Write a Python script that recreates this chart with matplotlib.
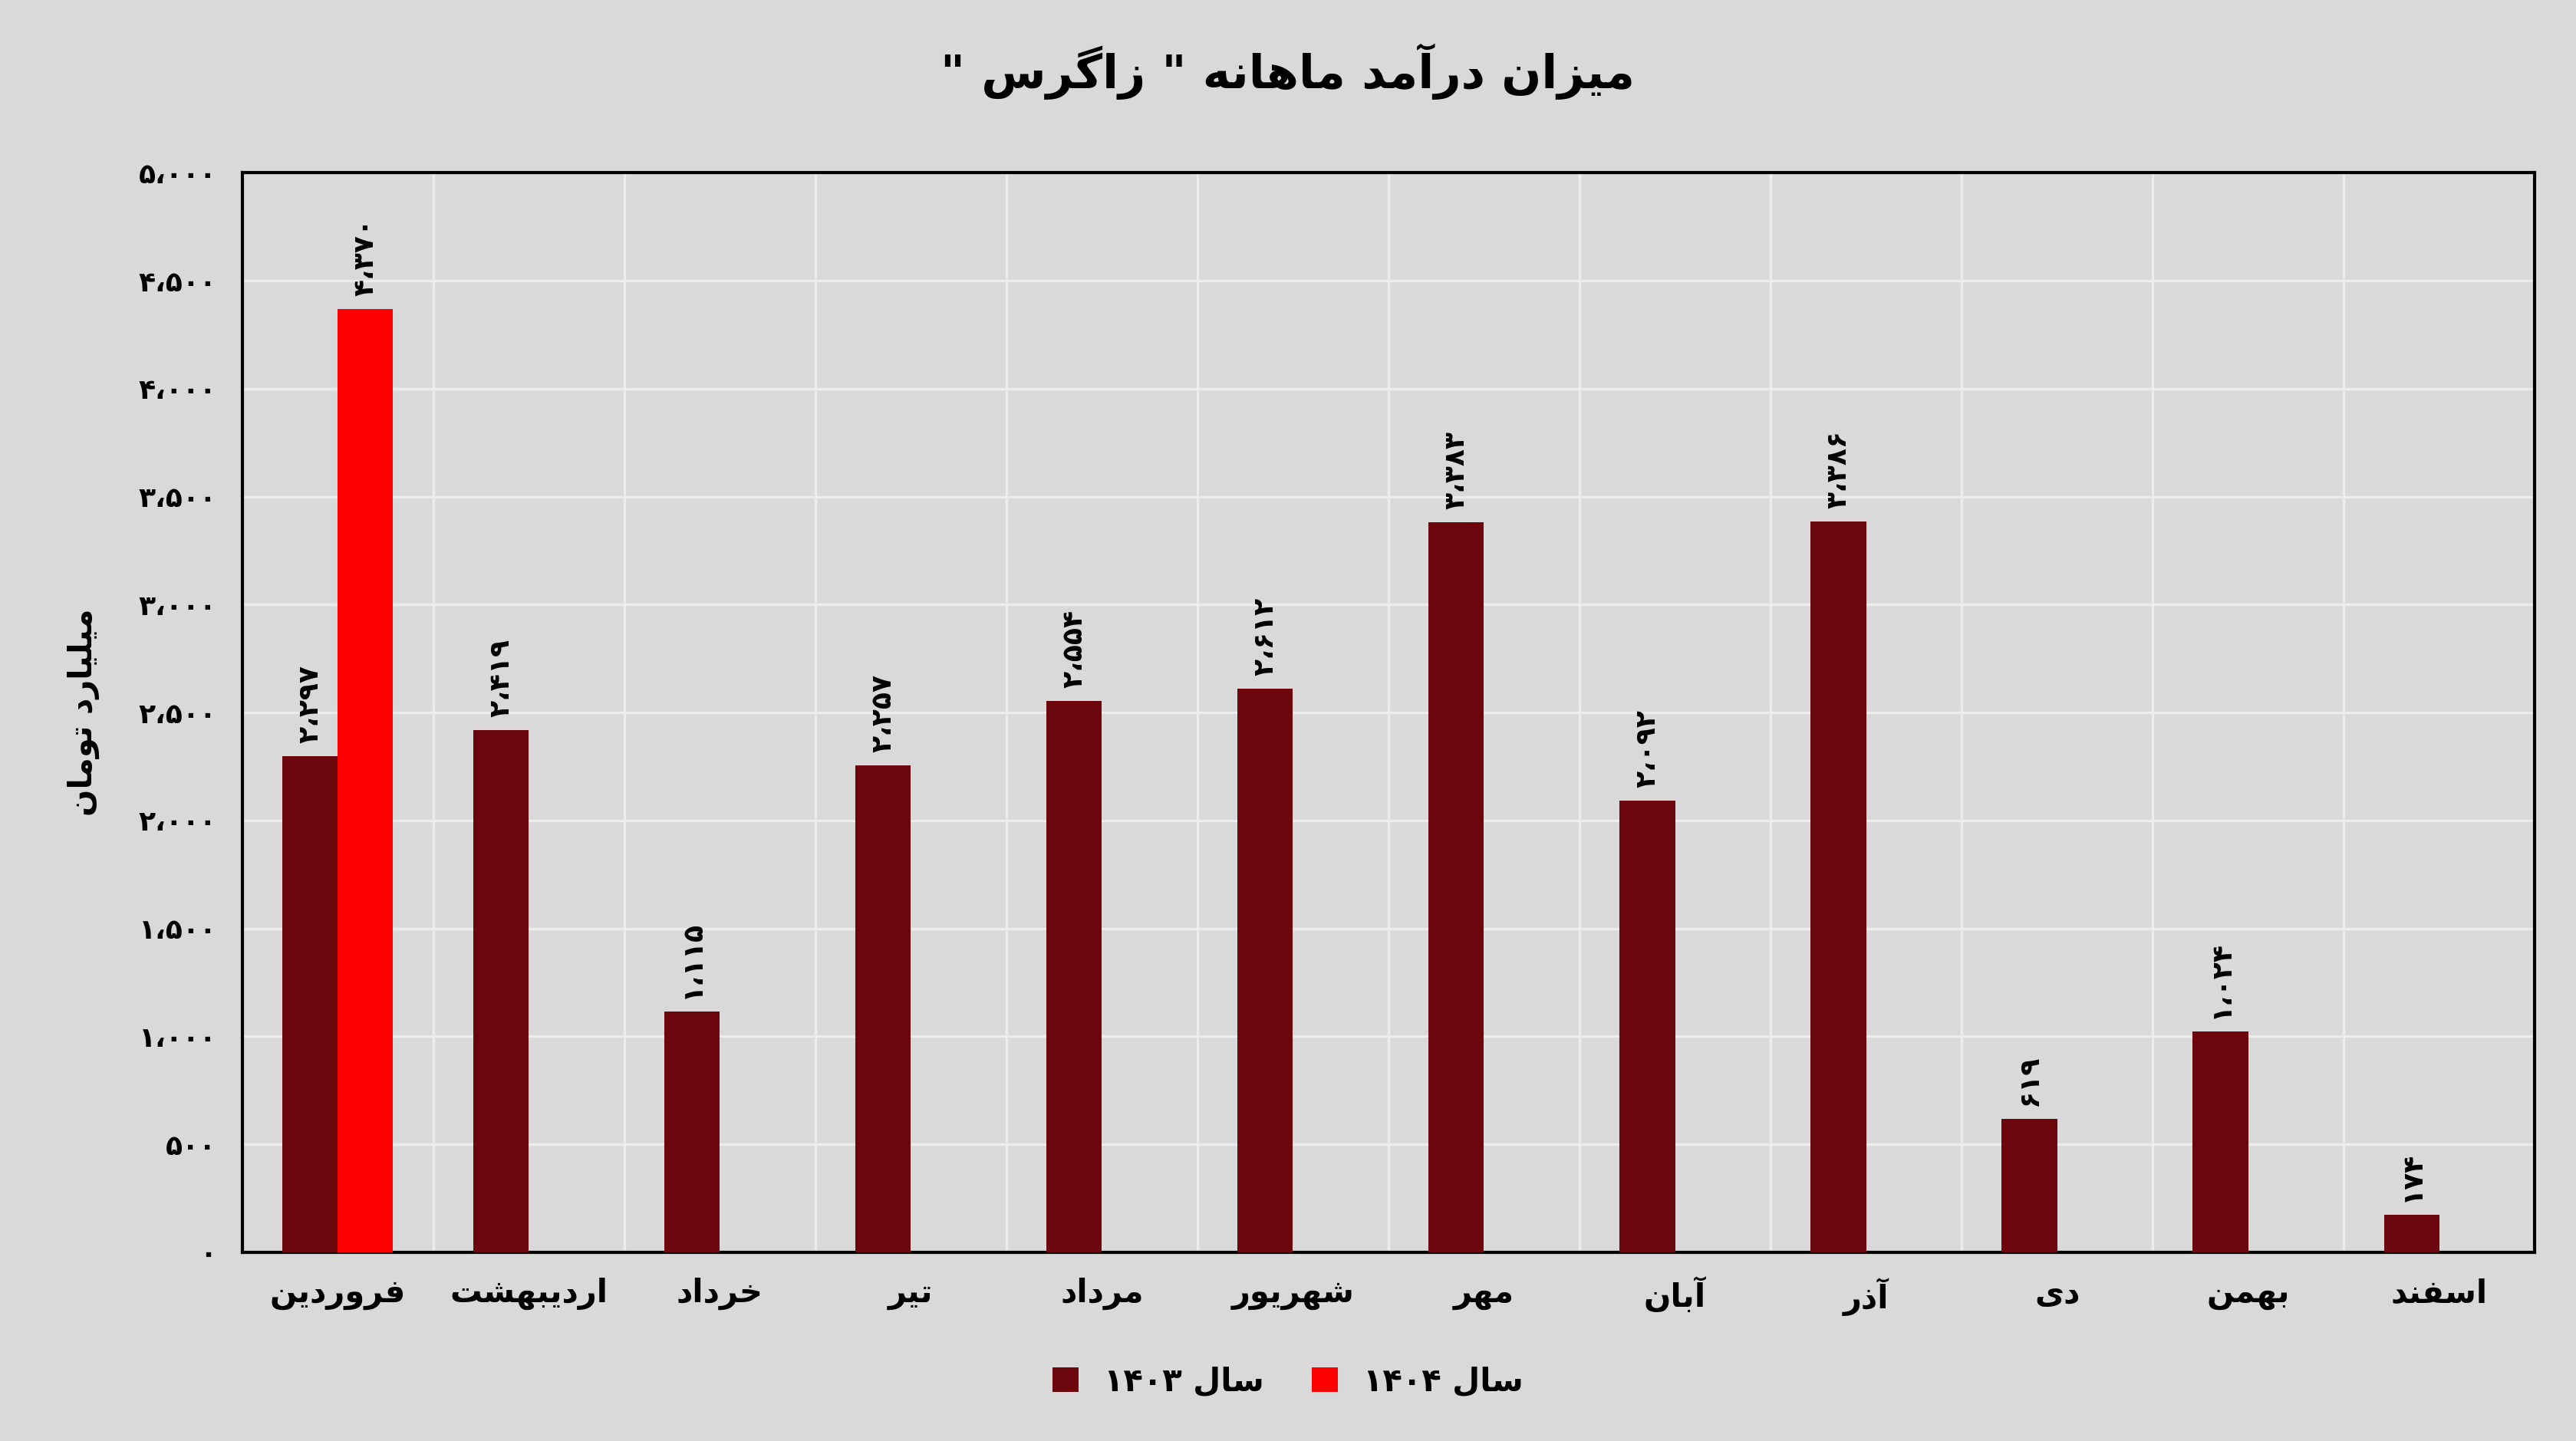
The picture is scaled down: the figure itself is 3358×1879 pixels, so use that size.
import unicodedata
import matplotlib
matplotlib.use("Agg")
import matplotlib.pyplot as plt
import numpy as np

months = ["فروردین", "اردیبهشت", "خرداد", "تیر", "مرداد", "شهریور",
          "مهر", "آبان", "آذر", "دی", "بهمن", "اسفند"]
income_1403 = [2297, 2419, 1115, 2257, 2554, 2612, 3383, 2092, 3386, 619, 1024, 174]
income_1404 = [4370]
yticks = [0, 500, 1000, 1500, 2000, 2500, 3000, 3500, 4000, 4500, 5000]

NON_LEFT = set("اآأإدذرزژوؤة")


def is_ar(c):
    return "\u0600" <= c <= "\u06FF" and c not in "۰۱۲۳۴۵۶۷۸۹،"


def form(c, f):
    try:
        return unicodedata.lookup(unicodedata.name(c) + " " + f + " FORM")
    except KeyError:
        return c


def fa(s):
    out = []
    for i, c in enumerate(s):
        if not is_ar(c):
            out.append(c)
            continue
        prev = s[i - 1] if i > 0 else ""
        nxt = s[i + 1] if i + 1 < len(s) else ""
        jp = prev != "" and is_ar(prev) and prev not in NON_LEFT
        jn = nxt != "" and is_ar(nxt) and c not in NON_LEFT
        f = "MEDIAL" if jp and jn else "FINAL" if jp else "INITIAL" if jn else "ISOLATED"
        g = form(c, f)
        if g == c and f == "MEDIAL":
            g = form(c, "FINAL")
        if g == c and f == "INITIAL":
            g = form(c, "ISOLATED")
        out.append(g)
    r = "".join(out)[::-1]
    # keep digit runs left-to-right
    res, run = "", ""
    for c in r:
        if c in "۰۱۲۳۴۵۶۷۸۹،0123456789":
            run += c
        else:
            res += run[::-1] + c
            run = ""
    return res + run[::-1]


def pnum(v):
    s = f"{v:,}".replace(",", "،")
    return s.translate(str.maketrans("0123456789", "۰۱۲۳۴۵۶۷۸۹"))


plt.rcParams["font.family"] = ["DejaVu Sans"]
bg = "#d9d9d9"
dark = "#6b060c"
red = "#ff0000"

fig = plt.figure(figsize=(16.79, 9.395), dpi=200, facecolor=bg)
ax = fig.add_axes([0.094, 0.131, 0.89, 0.749], facecolor=bg)

x = np.arange(len(months))
w = 0.29
ax.bar(x - w / 2, income_1403, w, color=dark, label=fa("سال ۱۴۰۳"), zorder=3)
ax.bar(x[:1] + w / 2, income_1404, w, color=red, label=fa("سال ۱۴۰۴"), zorder=3)

for xi, v in zip(x, income_1403):
    ax.text(xi - w / 2, v + 60, pnum(v), rotation=90, ha="center", va="bottom",
            fontsize=13, fontweight="bold", zorder=4)
for xi, v in zip(x[:1], income_1404):
    ax.text(xi + w / 2, v + 60, pnum(v), rotation=90, ha="center", va="bottom",
            fontsize=13, fontweight="bold", zorder=4)

ax.set_xlim(-0.5, len(months) - 0.5)
ax.set_ylim(0, 5000)
ax.set_yticks(yticks)
ax.set_yticklabels([pnum(v) for v in yticks], fontsize=13, fontweight="bold")
ax.set_xticks(x)
ax.set_xticklabels([fa(m) for m in months], fontsize=15, fontweight="bold")
ax.set_xticks(np.arange(len(months) + 1) - 0.5, minor=True)
ax.tick_params(length=0, which="both", pad=12)
ax.grid(True, axis="y", color="#ececec", linewidth=1.2, zorder=0)
ax.grid(True, axis="x", which="minor", color="#ececec", linewidth=1.2, zorder=0)
for s in ax.spines.values():
    s.set_color("black")
    s.set_linewidth(1.5)
ax.set_ylabel(fa("میلیارد تومان"), fontsize=15, fontweight="bold", labelpad=18)

fig.suptitle(fa('میزان درآمد ماهانه " زاگرس "'), fontsize=22, fontweight="bold", y=0.97)
fig.legend(loc="lower center", ncol=2, bbox_to_anchor=(0.5, 0.01), frameon=False,
           prop={"weight": "bold", "size": 15}, handlelength=0.8,
           handleheight=0.8, columnspacing=1.5)

fig.savefig("out.png", dpi=200, facecolor=bg)
